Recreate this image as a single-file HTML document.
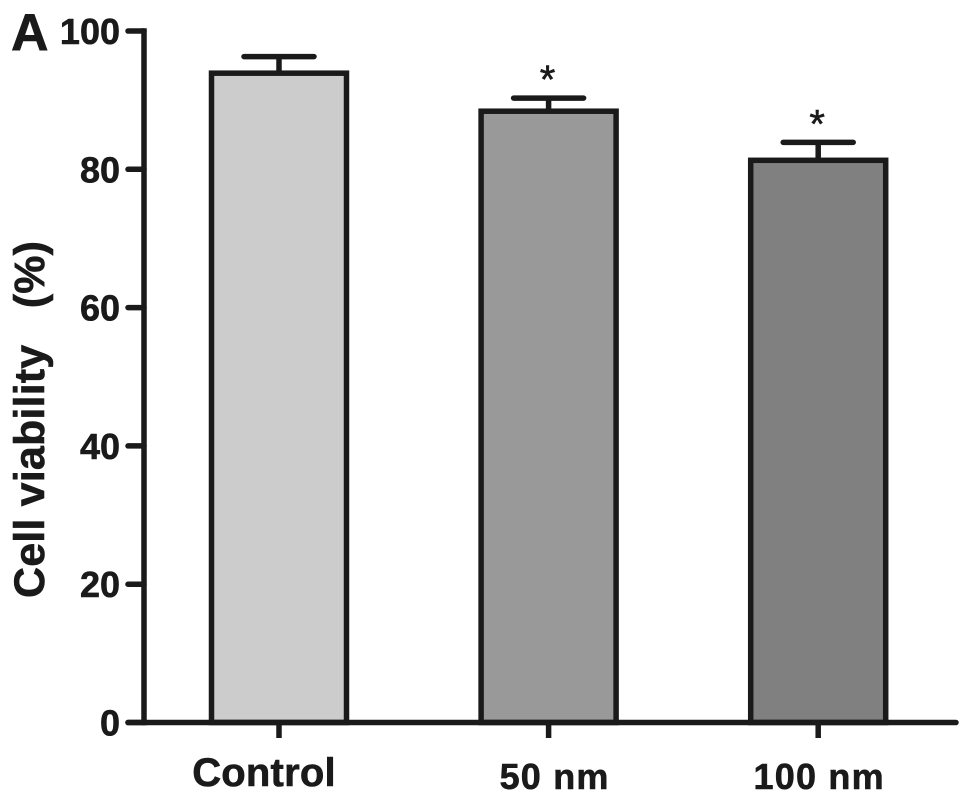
<!DOCTYPE html>
<html lang="en">
<head>
<meta charset="utf-8">
<title>Cell viability bar chart</title>
<style>
html,body{margin:0;padding:0;background:#fff;width:969px;height:801px;overflow:hidden}
svg{display:block}
text{font-family:"Liberation Sans",Arial,sans-serif;font-weight:bold;fill:#1a1a1a;stroke:#1a1a1a;stroke-width:0.6px}
</style>
</head>
<body>
<svg id="chart" xmlns="http://www.w3.org/2000/svg" width="969" height="801" viewBox="0 0 969 801">
<text x="11" y="50" font-size="52">A</text>
<text transform="translate(44,598) rotate(-90)" font-size="43" xml:space="preserve" textLength="357" lengthAdjust="spacing">Cell viability   (%)</text>
</svg>
<script>
const categories = ['Control', '50 nm', '100 nm'];
const values = [93.9, 88.4, 81.3];
const errors = [2.4, 1.9, 2.6];
const fills = ['#cccccc', '#999999', '#808080'];
const significance = ['', '*', '*'];
const yTicks = [0, 20, 40, 60, 80, 100];

const svg = document.getElementById('chart');
const NS = 'http://www.w3.org/2000/svg';
const INK = '#1a1a1a';
const STROKE = 5.5;
const yScale = v => 722.5 - v * 6.915;
const xScale = i => 279 + i * 269.6;
const halfBar = 67.5;
const halfCap = 35;
const labelStyle = [
  {size: 40, y: 786, spacing: 0.2, shift: -15},
  {size: 36, y: 789, spacing: 1.2, shift: 6},
  {size: 36, y: 789, spacing: 1.2, shift: 1}
];

function line(x1, y1, x2, y2, cap) {
  const el = document.createElementNS(NS, 'line');
  el.setAttribute('x1', x1);
  el.setAttribute('y1', y1);
  el.setAttribute('x2', x2);
  el.setAttribute('y2', y2);
  el.setAttribute('stroke', INK);
  el.setAttribute('stroke-width', STROKE);
  el.setAttribute('stroke-linecap', cap || 'butt');
  svg.appendChild(el);
  return el;
}

categories.forEach((name, i) => {
  const cx = xScale(i);
  const top = yScale(values[i]);
  const errTop = yScale(values[i] + errors[i]);

  const stem = line(cx, top, cx, errTop);
  
  

  const cap = line(cx - halfCap, errTop, cx + halfCap, errTop, 'round');
  
  

  const bar = document.createElementNS(NS, 'rect');
  
  
  bar.setAttribute('x', cx - halfBar);
  bar.setAttribute('y', top);
  bar.setAttribute('width', halfBar * 2);
  bar.setAttribute('height', yScale(0) - top);
  bar.setAttribute('fill', fills[i]);
  bar.setAttribute('stroke', INK);
  bar.setAttribute('stroke-width', STROKE);
  svg.appendChild(bar);

  if (significance[i]) {
    const star = document.createElementNS(NS, 'text');
    
    
    star.setAttribute('x', cx - 1);
    star.setAttribute('y', errTop - 5);
    star.setAttribute('text-anchor', 'middle');
    star.setAttribute('font-size', 40);
    star.style.fontWeight = 'normal';
    star.textContent = significance[i];
    svg.appendChild(star);
  }

  const tick = line(cx, yScale(0), cx, 738);
  
  

  const label = document.createElementNS(NS, 'text');
  
  
  label.setAttribute('x', cx + labelStyle[i].shift);
  label.setAttribute('y', labelStyle[i].y);
  label.setAttribute('text-anchor', 'middle');
  label.setAttribute('font-size', labelStyle[i].size);
  label.setAttribute('letter-spacing', labelStyle[i].spacing);
  label.textContent = name;
  svg.appendChild(label);
});

const yAxis = line(144, yScale(100) - 2.75, 144, yScale(0) + 2.75);



const xAxis = line(128, yScale(0), 956, yScale(0), 'round');



yTicks.forEach(v => {
  const y = yScale(v);
  const tick = line(128, y, 144, y, 'round');
  
  

  const label = document.createElementNS(NS, 'text');
  
  
  label.setAttribute('x', 120);
  label.setAttribute('y', y + 13);
  label.setAttribute('text-anchor', 'end');
  label.setAttribute('font-size', 36);
  label.textContent = v;
  svg.appendChild(label);
});
</script>
</body>
</html>
